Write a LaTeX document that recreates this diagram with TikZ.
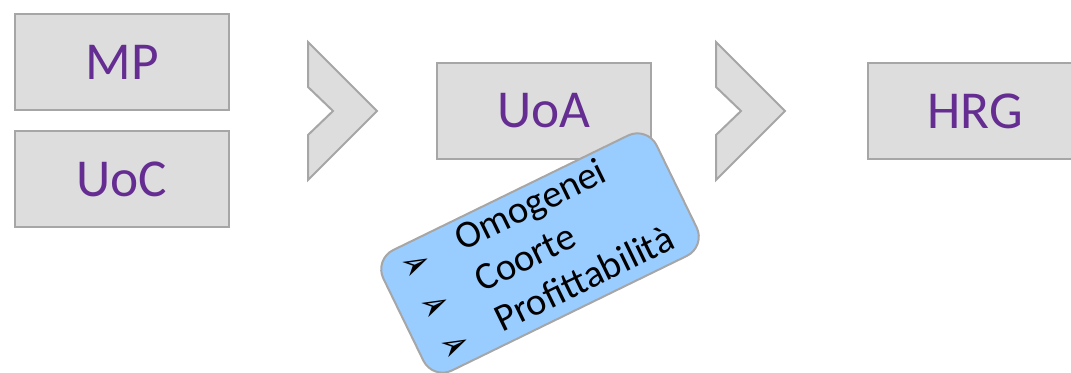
\documentclass[tikz,border=0pt]{standalone}
\usepackage{fontspec}
\setmainfont{Carlito}
\newfontfamily\bulletfont{DejaVu Sans}

\definecolor{boxfill}{HTML}{DDDDDD}
\definecolor{boxline}{HTML}{A6A6A6}
\definecolor{labelpurple}{HTML}{652D91}
\definecolor{listblue}{HTML}{99CCFF}

\tikzset{
  stagebox/.style={draw=boxline, fill=boxfill, line width=1.5pt,
    minimum width=160.5pt, minimum height=72pt, inner sep=0pt,
    text=labelpurple, font=\fontsize{40}{48}\selectfont},
  chevron/.pic={
    \draw[draw=boxline, fill=boxfill, line width=1.5pt, line join=miter]
      (0,0) -- (69,69) -- (0,138) -- (0,93) -- (25,69) -- (0,45) -- cycle;
  },
  listbox/.style={draw=boxline, fill=listblue, line width=1.5pt, rounded corners=16pt},
  listitem/.style={anchor=base west, inner sep=0pt, font=\fontsize{29}{33}\selectfont},
  listbullet/.style={inner sep=0pt, font=\bulletfont\fontsize{27}{30}\selectfont}
}

\begin{document}
\begin{tikzpicture}[x=0.75pt, y=-0.75pt]
  \clip (0,0) rectangle (1071,373);

  % input stages
  \node[stagebox] (mp) at (122,62) {MP};
  \node[stagebox] (uoc) at (122,179) {UoC};

  \pic at (308,42) {chevron};

  \node[stagebox] (uoa) at (544,111) {UoA};

  \pic at (716,42) {chevron};

  \node[stagebox] (hrg) at (975,111) {HRG};

  % criteria box
  \begin{scope}[shift={(540,253)}, rotate=26, transform shape]
    \draw[listbox] (-152,-67) rectangle (152,67);
    \node[listbullet] (b1) at (-117,-42) {➢};
    \node[listbullet] (b2) at (-117,3) {➢};
    \node[listbullet] (b3) at (-117,48) {➢};
    \node[listitem] (omo) at (-69,-35) {Omogenei};
    \node[listitem] (coo) at (-69,10) {Coorte};
    \node[listitem] (pro) at (-69,55) {Profittabilità};
  \end{scope}
\end{tikzpicture}
\end{document}
